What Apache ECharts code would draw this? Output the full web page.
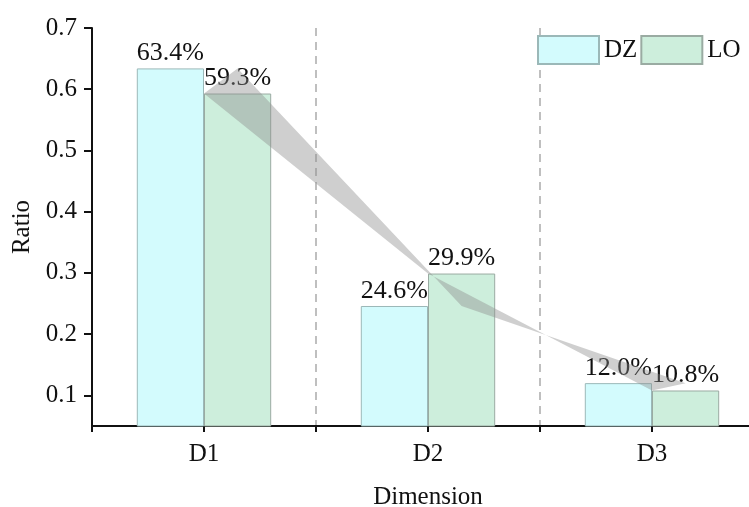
<!DOCTYPE html>
<html>
<head>
<meta charset="utf-8">
<script src="https://cdn.jsdelivr.net/npm/echarts@6/dist/echarts.min.js"></script>
<style>html,body{margin:0;padding:0;background:#fff;overflow:hidden;width:749px;height:507px}#c{width:764px;height:507px}</style>
</head>
<body>
<div id="c"></div>
<script>
var categories = ['D1', 'D2', 'D3'];
var dzValues = [0.634, 0.246, 0.120];
var loValues = [0.593, 0.299, 0.108];
var yTicks = [0.1, 0.2, 0.3, 0.4, 0.5, 0.6, 0.7];

var FONT = "'Liberation Serif', 'Times New Roman', serif";
var chart = echarts.init(document.getElementById('c'), null, {renderer: 'canvas'});

function pct(p) { return (p.value * 100).toFixed(1) + '%'; }

var option = {
  animation: false,
  backgroundColor: '#fff',
  grid: {left: 92, right: 0, top: 28, bottom: 81, containLabel: false, outerBoundsMode: 'none'},
  legend: {
    data: ['DZ', 'LO'], left: 537, top: 35, padding: 0,
    itemWidth: 61, itemHeight: 28, itemGap: 3, icon: 'rect',
    textStyle: {fontFamily: FONT, fontSize: 25, color: '#111'}
  },
  xAxis: [{
    type: 'category', data: categories, boundaryGap: true,
    name: 'Dimension', nameLocation: 'middle', nameGap: 59,
    nameTextStyle: {fontFamily: FONT, fontSize: 25, color: '#111'},
    axisLine: {lineStyle: {color: '#111', width: 2}},
    axisTick: {show: true, alignWithLabel: false, length: 6, lineStyle: {color: '#111', width: 2}},
    axisLabel: {fontFamily: FONT, fontSize: 25, color: '#111', margin: 16},
    splitLine: {show: true, interval: 0, lineStyle: {color: '#aaa', width: 1.5, type: [8, 6]}}
  }, {
    type: 'category', data: categories, position: 'bottom', boundaryGap: true,
    axisLine: {show: false},
    axisTick: {show: true, alignWithLabel: true, length: 6, lineStyle: {color: '#111', width: 2}},
    axisLabel: {show: false},
    splitLine: {show: false}
  }],
  yAxis: {
    type: 'value', min: 0.05, max: 0.7,
    name: 'Ratio', nameLocation: 'middle', nameGap: 56,
    nameTextStyle: {fontFamily: FONT, fontSize: 25, color: '#111'},
    axisLine: {show: true, lineStyle: {color: '#111', width: 2}},
    axisTick: {show: true, length: 8, customValues: yTicks, lineStyle: {color: '#111', width: 2}},
    axisLabel: {fontFamily: FONT, fontSize: 25, color: '#111', margin: 15, customValues: yTicks,
      formatter: function (v) { return String(Math.round(v * 10) / 10); }},
    splitLine: {show: false}
  },
  series: [{
    name: 'DZ', type: 'bar', data: dzValues, barWidth: '30%', barGap: '0%',
    itemStyle: {color: '#d3fbfd', borderColor: '#9bb8b8', borderWidth: 1},
    label: {show: true, position: 'top', distance: 2, formatter: pct,
      fontFamily: FONT, fontSize: 26, color: '#111'},
    z: 2
  }, {
    name: 'LO', type: 'bar', data: loValues, barWidth: '30%', barGap: '0%',
    itemStyle: {color: '#cdeedc', borderColor: '#9aaba2', borderWidth: 1},
    label: {show: true, position: 'top', distance: 2, formatter: pct,
      fontFamily: FONT, fontSize: 26, color: '#111'},
    z: 2
  }, {
    type: 'custom', coordinateSystem: 'cartesian2d', xAxisIndex: 0, yAxisIndex: 0,
    data: [[0, 0]], silent: true, z: 3,
    renderItem: function (params, api) {
      var half = api.size([1, 0])[0] * 0.15;
      var pts = [];
      for (var i = 0; i < loValues.length; i++) {
        pts.push(api.coord([i, loValues[i]]));
      }
      for (var j = dzValues.length - 1; j >= 0; j--) {
        var c = api.coord([j, dzValues[j]]);
        pts.push([c[0] + half, c[1]]);
      }
      return {type: 'polygon', shape: {points: pts},
        style: {fill: 'rgba(140,140,140,0.42)', stroke: null}};
    }
  }]
};
chart.setOption(option);
</script>
</body>
</html>
